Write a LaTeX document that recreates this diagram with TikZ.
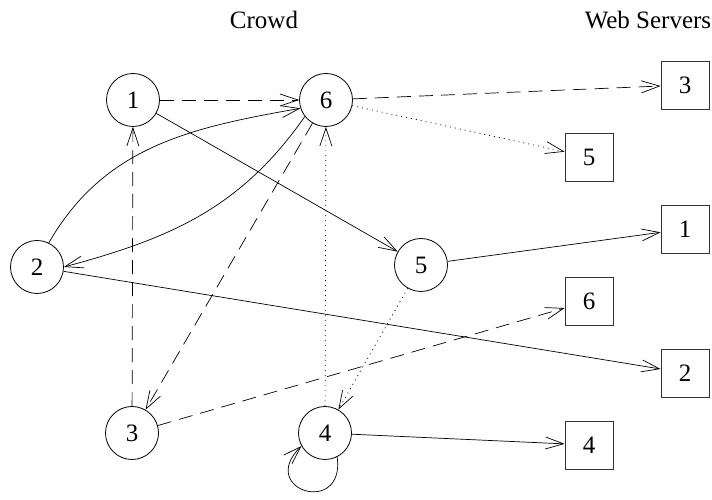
\documentclass[tikz,border=0pt]{standalone}
\usepackage{fontspec}
\setmainfont{Liberation Serif}
\usetikzlibrary{arrows.meta,positioning}

\begin{document}
\begin{tikzpicture}[
    x=1pt, y=1pt,
    font=\fontsize{25}{30}\selectfont,
    peer/.style={circle, draw, line width=0.8pt, minimum size=53pt, inner sep=0pt},
    server/.style={rectangle, draw, black!80, text=black, line width=0.9pt, minimum size=48pt, inner sep=0pt},
    link/.style={line width=0.7pt, -{Straight Barb[length=18pt, width=12pt, line width=0.7pt]}},
    fwd/.style={link, dash pattern=on 14pt off 8pt},
    leak/.style={link, dash pattern=on 1pt off 4pt}
  ]
  \useasboundingbox (0,0) rectangle (712,500);

  % --- Headings ---
  \node (crowdlbl) at (264,480) {Crowd};
  \node (weblbl) at (648,480) {Web Servers};

  % --- Crowd members ---
  \node[peer] (p1) at (133,400) {1};
  \node[peer] (p6) at (326,400) {6};
  \node[peer] (p2) at (37,233) {2};
  \node[peer] (p5) at (421,235) {5};
  \node[peer] (p3) at (132,67) {3};
  \node[peer] (p4) at (325,67) {4};

  % --- Web servers ---
  \node[server] (w3) at (685,415) {3};
  \node[server] (w5) at (589,343) {5};
  \node[server] (w1) at (685,271) {1};
  \node[server] (w6) at (589,199) {6};
  \node[server] (w2) at (685,127) {2};
  \node[server] (w4) at (589,55) {4};

  % --- Paths through the crowd ---
  \draw[fwd] (p1) -- (p6);
  \draw[fwd] (p3) -- (p1);
  \draw[fwd] (p6) -- (p3);
  \draw[fwd] (p6) -- (w3);
  \draw[fwd] (p3) -- (w6);

  \draw[leak] (p4) -- (p6);
  \draw[leak] (p5) -- (p4);
  \draw[leak] (p6) -- (w5);

  \draw[link] (p2.64) to[out=60, in=190] (p6.198);
  \draw[link] (p6.218) to[out=235, in=15] (p2.east);
  \draw[link] (p1) -- (p5);
  \draw[link] (p5) -- (w1);
  \draw[link] (p2) -- (w2);
  \draw[link] (p4) -- (w4);
  \draw[link] (p4.-63) .. controls +(8,-60) and +(-45,-44) .. (p4.209);

\end{tikzpicture}
\end{document}
